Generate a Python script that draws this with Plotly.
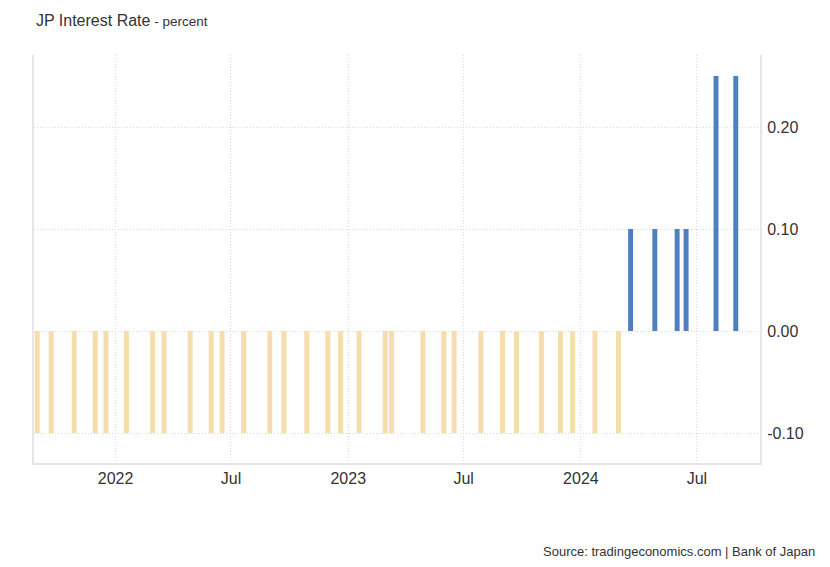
import plotly.graph_objects as go

dates = [
    "2021-08-31", "2021-09-22", "2021-10-28", "2021-11-30", "2021-12-17",
    "2022-01-18", "2022-02-28", "2022-03-18", "2022-04-28", "2022-05-31",
    "2022-06-17", "2022-07-21", "2022-08-31", "2022-09-22", "2022-10-28",
    "2022-11-30", "2022-12-20", "2023-01-18", "2023-02-28", "2023-03-10",
    "2023-04-28", "2023-05-31", "2023-06-16", "2023-07-28", "2023-08-31",
    "2023-09-22", "2023-10-31", "2023-11-30", "2023-12-19", "2024-01-23",
    "2024-02-29", "2024-03-19", "2024-04-26", "2024-05-31", "2024-06-14",
    "2024-07-31", "2024-08-31",
]
rates = [-0.10] * 31 + [0.10, 0.10, 0.10, 0.10, 0.25, 0.25]

x_tick_vals = ["2022-01-01", "2022-07-01", "2023-01-01", "2023-07-01", "2024-01-01", "2024-07-01"]
x_tick_text = ["2022", "Jul", "2023", "Jul", "2024", "Jul"]
y_tick_vals = [-0.1, 0.0, 0.1, 0.2]
y_tick_text = ["-0.10", "0.00", "0.10", "0.20"]

NEG_COLOR = "#F5DDAE"
POS_COLOR = "#4F7FBE"
colors = [POS_COLOR if v > 0 else NEG_COLOR for v in rates]

bar_width_ms = 7.8 * 86400000
FONT = "Liberation Sans, Arial, sans-serif"

fig = go.Figure(
    go.Bar(
        x=dates,
        y=rates,
        marker=dict(color=colors, line=dict(width=0)),
        width=bar_width_ms,
        hoverinfo="x+y",
    )
)

# The browser page has an 8px body margin, so the figure is 8px smaller.
fig.update_layout(
    width=822,
    height=559,
    margin=dict(l=26, r=70, t=47, b=104),
    paper_bgcolor="white",
    plot_bgcolor="white",
    showlegend=False,
    font=dict(family=FONT, color="#333333"),
    annotations=[
        dict(
            text="JP Interest Rate<span style='font-size:13.5px'> - percent</span>",
            xref="paper", yref="paper", x=0, y=1.0, xanchor="left", yanchor="middle",
            yshift=35, showarrow=False, font=dict(size=16, color="#333333"),
        ),
        dict(
            text="Source: tradingeconomics.com | Bank of Japan",
            xref="paper", yref="paper", x=1.0, y=0, xanchor="right", yanchor="middle",
            xshift=57, yshift=-88, showarrow=False, font=dict(size=13, color="#333333"),
        ),
    ],
)

fig.update_xaxes(
    type="date",
    range=["2021-08-26", "2024-10-08"],
    tickvals=x_tick_vals,
    ticktext=x_tick_text,
    tickfont=dict(size=16, color="#333333"),
    showgrid=True,
    gridcolor="#d9d9d9",
    griddash="1px,2px",
    gridwidth=1,
    showline=True,
    linecolor="#e6e6e6",
    linewidth=2,
    ticks="",
    ticklabelstandoff=0,
    zeroline=False,
)

fig.update_yaxes(
    side="right",
    range=[-0.1294, 0.2706],
    tickvals=y_tick_vals,
    ticktext=y_tick_text,
    tickfont=dict(size=16, color="#333333"),
    showgrid=True,
    gridcolor="#d9d9d9",
    griddash="1px,2px",
    gridwidth=1,
    showline=True,
    mirror=True,
    linecolor="#e6e6e6",
    linewidth=2,
    zeroline=False,
    ticks="",
    ticklabelstandoff=2,
)

fig.write_html("out.html")
